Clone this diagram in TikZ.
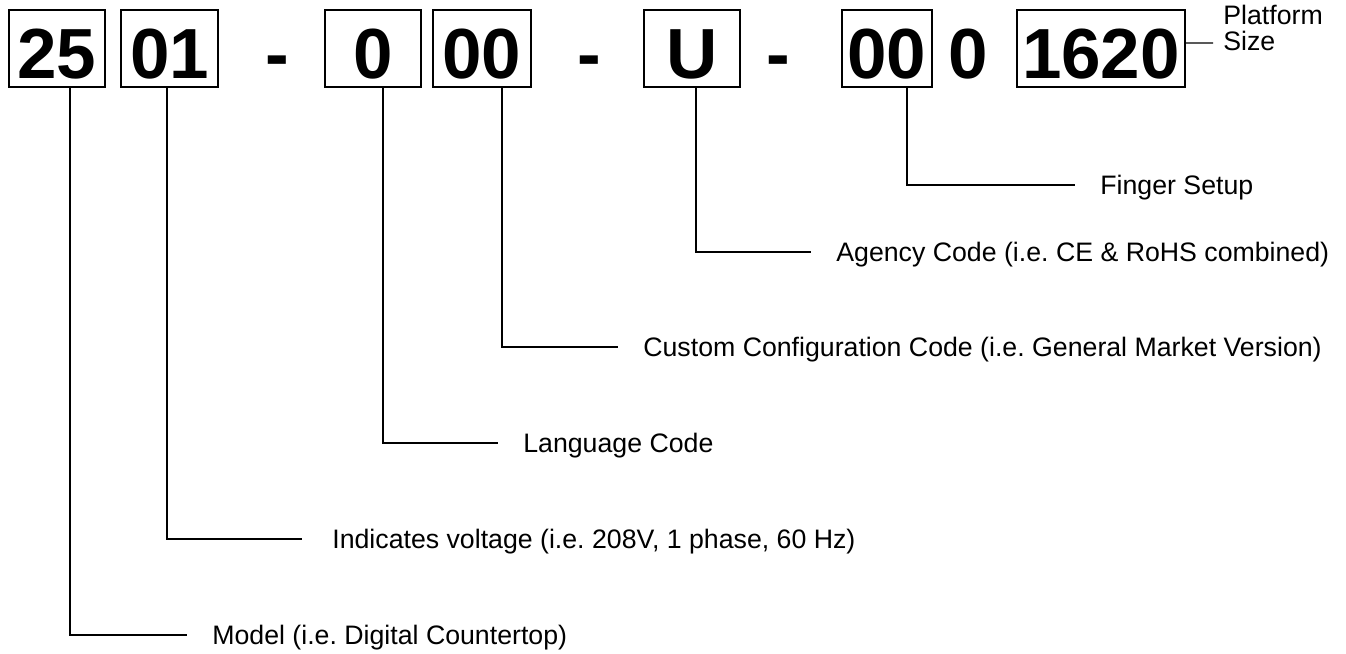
\documentclass[tikz,border=0pt]{standalone}
\usepackage{fontspec}
\setmainfont{Liberation Sans}
\usepackage{tikz}
\usetikzlibrary{positioning}
\frenchspacing

\begin{document}
\begin{tikzpicture}[x=0.02cm, y=-0.02cm,
  digit/.style={font=\bfseries\fontsize{40.4pt}{48pt}\selectfont, inner sep=0pt,
    text height=33.6pt, text depth=0pt, minimum height=1.54cm},
  digitbox/.style={digit, draw, line width=0.8pt},
  callout/.style={font=\fontsize{15.2pt}{17pt}\selectfont, anchor=west,
    inner xsep=0.5cm, inner ysep=0pt, text height=10.9pt, text depth=0pt},
  lead/.style={line width=0.8pt}]

\useasboundingbox (0,0) rectangle (1346,653);

% part number
\node[digitbox, minimum width=1.92cm] (b25) at (57,48.5) {25};
\node[digitbox, minimum width=1.94cm] (b01) at (169.5,48.5) {01};
\node[digit] (dasha) at (277,48.5) {-};
\node[digitbox, minimum width=1.92cm] (blang) at (373,48.5) {0};
\node[digitbox, minimum width=1.96cm] (bcustom) at (482,48.5) {00};
\node[digit] (dashb) at (589,48.5) {-};
\node[digitbox, minimum width=1.92cm] (bagency) at (692,48.5) {U};
\node[digit] (dashc) at (778,48.5) {-};
\node[digitbox, minimum width=1.80cm] (bfinger) at (887,48.5) {00};
\node[digit] (zero) at (968,48.5) {0};
\node[digitbox, minimum width=3.36cm] (b1620) at (1101,48.5) {1620};

% callouts
\node[callout] (model) at (187,635) {Model (i.e. Digital Countertop)};
\node[callout, inner xsep=0.6cm] (volt) at (302,539) {Indicates voltage (i.e. 208V, 1 phase, 60 Hz)};
\node[callout] (lang) at (498,443) {Language Code};
\node[callout] (custom) at (618,347) {Custom Configuration Code (i.e. General Market Version)};
\node[callout] (agency) at (811,252) {Agency Code (i.e. CE \& RoHS combined)};
\node[callout] (finger) at (1075,185) {Finger Setup};

\node[font=\fontsize{15.2pt}{14.8pt}\selectfont, align=left, anchor=north west,
  inner sep=0pt] (platform) at (1223,5) {Platform\\Size};
\coordinate (ptip) at (1213,43);

\draw[lead] ([xshift=0.26cm]b25.south) |- (model.west);
\draw[lead] ([xshift=-0.05cm]b01.south) |- (volt.west);
\draw[lead] ([xshift=0.2cm]blang.south) |- (lang.west);
\draw[lead] ([xshift=0.4cm]bcustom.south) |- (custom.west);
\draw[lead] ([xshift=0.08cm]bagency.south) |- (agency.west);
\draw[lead] ([xshift=0.4cm]bfinger.south) |- (finger.west);
\draw[lead] ([yshift=0.11cm]b1620.east) -- (ptip);

\end{tikzpicture}
\end{document}
